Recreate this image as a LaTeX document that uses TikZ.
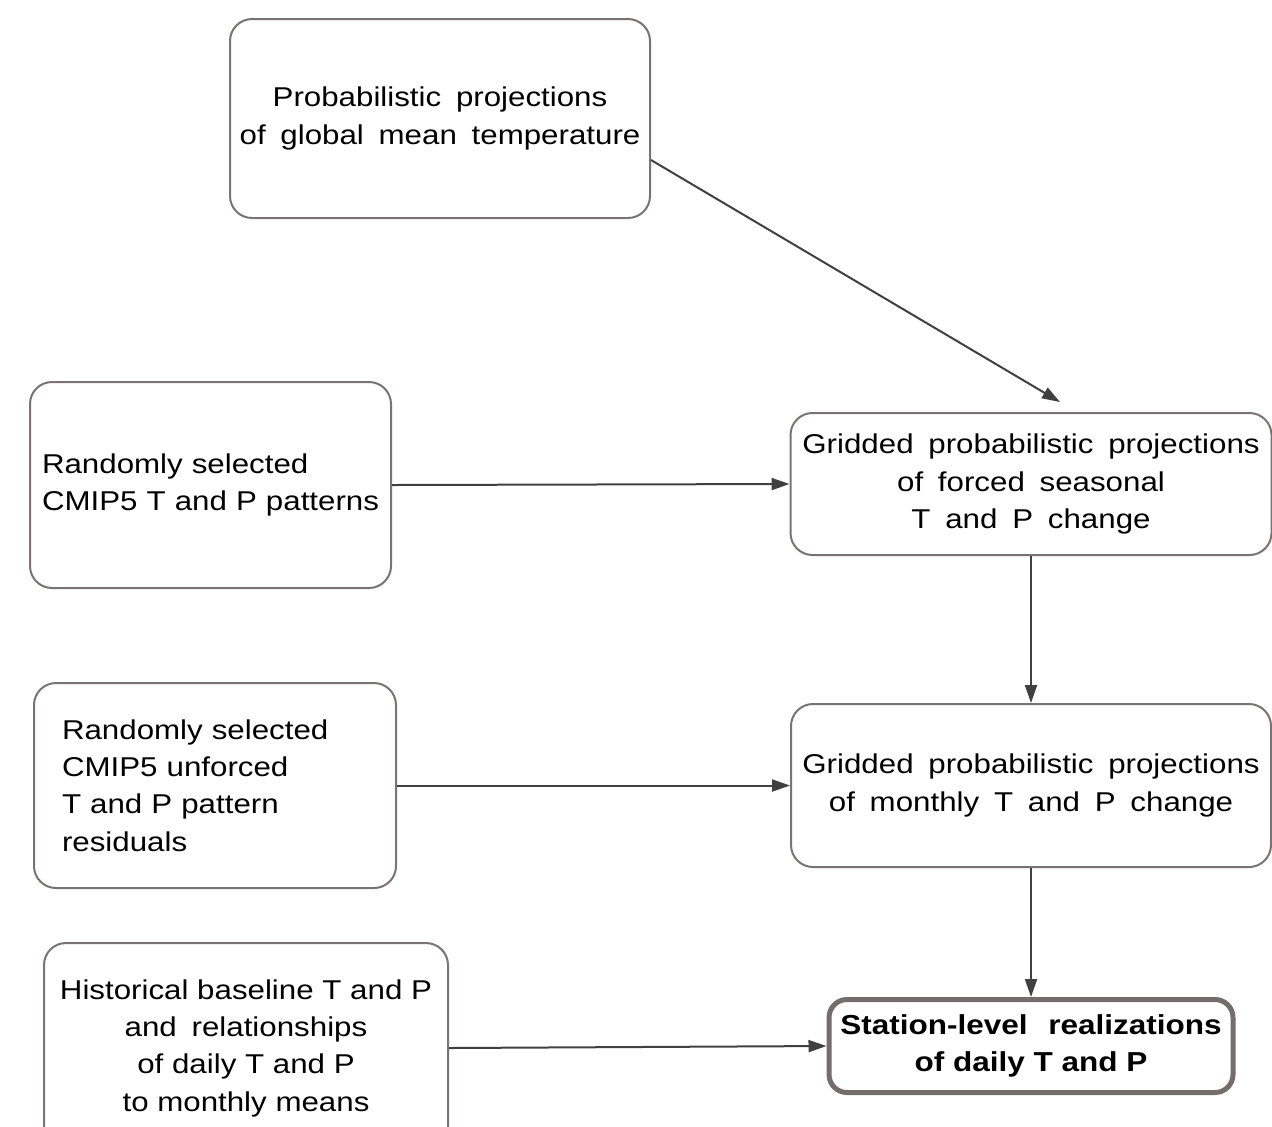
\documentclass[tikz,border=0pt]{standalone}
\usepackage{fontspec}
\setmainfont{Liberation Sans}[FakeStretch=1.15]
\newfontfamily\widesp{Liberation Sans}[FakeStretch=1.15,WordSpace=1.7]
\usetikzlibrary{arrows.meta,calc}
\definecolor{boxgray}{HTML}{7B7373}
\definecolor{keygray}{HTML}{756D6D}
\definecolor{flowgray}{HTML}{404040}
\tikzset{box/.style={draw=boxgray,line width=1pt,rounded corners=11pt,fill=white,
    font=\fontsize{13.6}{18.65}\selectfont},
  widebox/.style={box,align=center,font=\fontsize{13.6}{18.65}\selectfont\widesp},
  inputbox/.style={box,align=left},
  keybox/.style={box,align=center,draw=keygray,line width=2.5pt,rounded corners=9pt,
    font=\fontsize{13.7}{18.65}\selectfont\bfseries},
  flow/.style={draw=flowgray,line width=1pt,-{Triangle[length=9pt,width=6pt]}}}

\begin{document}
\begin{tikzpicture}[x=0.5pt,y=-0.5pt]
\useasboundingbox (0,0) rectangle (1272,1126);

\node[widebox,minimum width=210pt,minimum height=99.5pt] (gmt) at (440,118.5)
  {Probabilistic projections\\of global mean temperature};
\node[inputbox,text width=168.5pt,inner xsep=6pt,minimum height=103pt] (patterns) at (210.5,485)
  {\mbox{Randomly selected}\\\mbox{CMIP5 T and P patterns}};
\node[widebox,minimum width=240.5pt,minimum height=71pt] (forced) at (1031,484)
  {Gridded probabilistic projections\\of forced seasonal\\T and P change};
\node[inputbox,text width=153pt,inner xsep=14pt,minimum height=102.5pt] (residuals) at (215,785.5)
  {Randomly selected\\CMIP5 unforced\\T and P pattern\\residuals};
\node[widebox,minimum width=240pt,minimum height=81.5pt] (monthly) at (1031,785.5)
  {Gridded probabilistic projections\\of monthly T and P change};
\node[box,align=center,minimum width=202pt,minimum height=105pt] (baseline) at (246,1048)
  {Historical baseline T and P\\{\widesp and relationships}\\of daily T and P\\to monthly means};
\node[keybox,minimum width=202pt,minimum height=46.5pt] (station) at (1031,1046)
  {Station-level\hspace{6pt} realizations\\of daily T and P};

\coordinate (gmtend) at (1060,402);
\draw[flow] ($(gmt.east)+(0,41.5)$) -- (gmtend);
\draw[flow] (patterns.east) -- (forced.west);
\draw[flow] (forced.south) -- (monthly.north);
\draw[flow] (residuals.east) -- (monthly.west);
\draw[flow] (monthly.south) -- (station.north);
\draw[flow] (baseline.east) -- (station.west);

\end{tikzpicture}
\end{document}
